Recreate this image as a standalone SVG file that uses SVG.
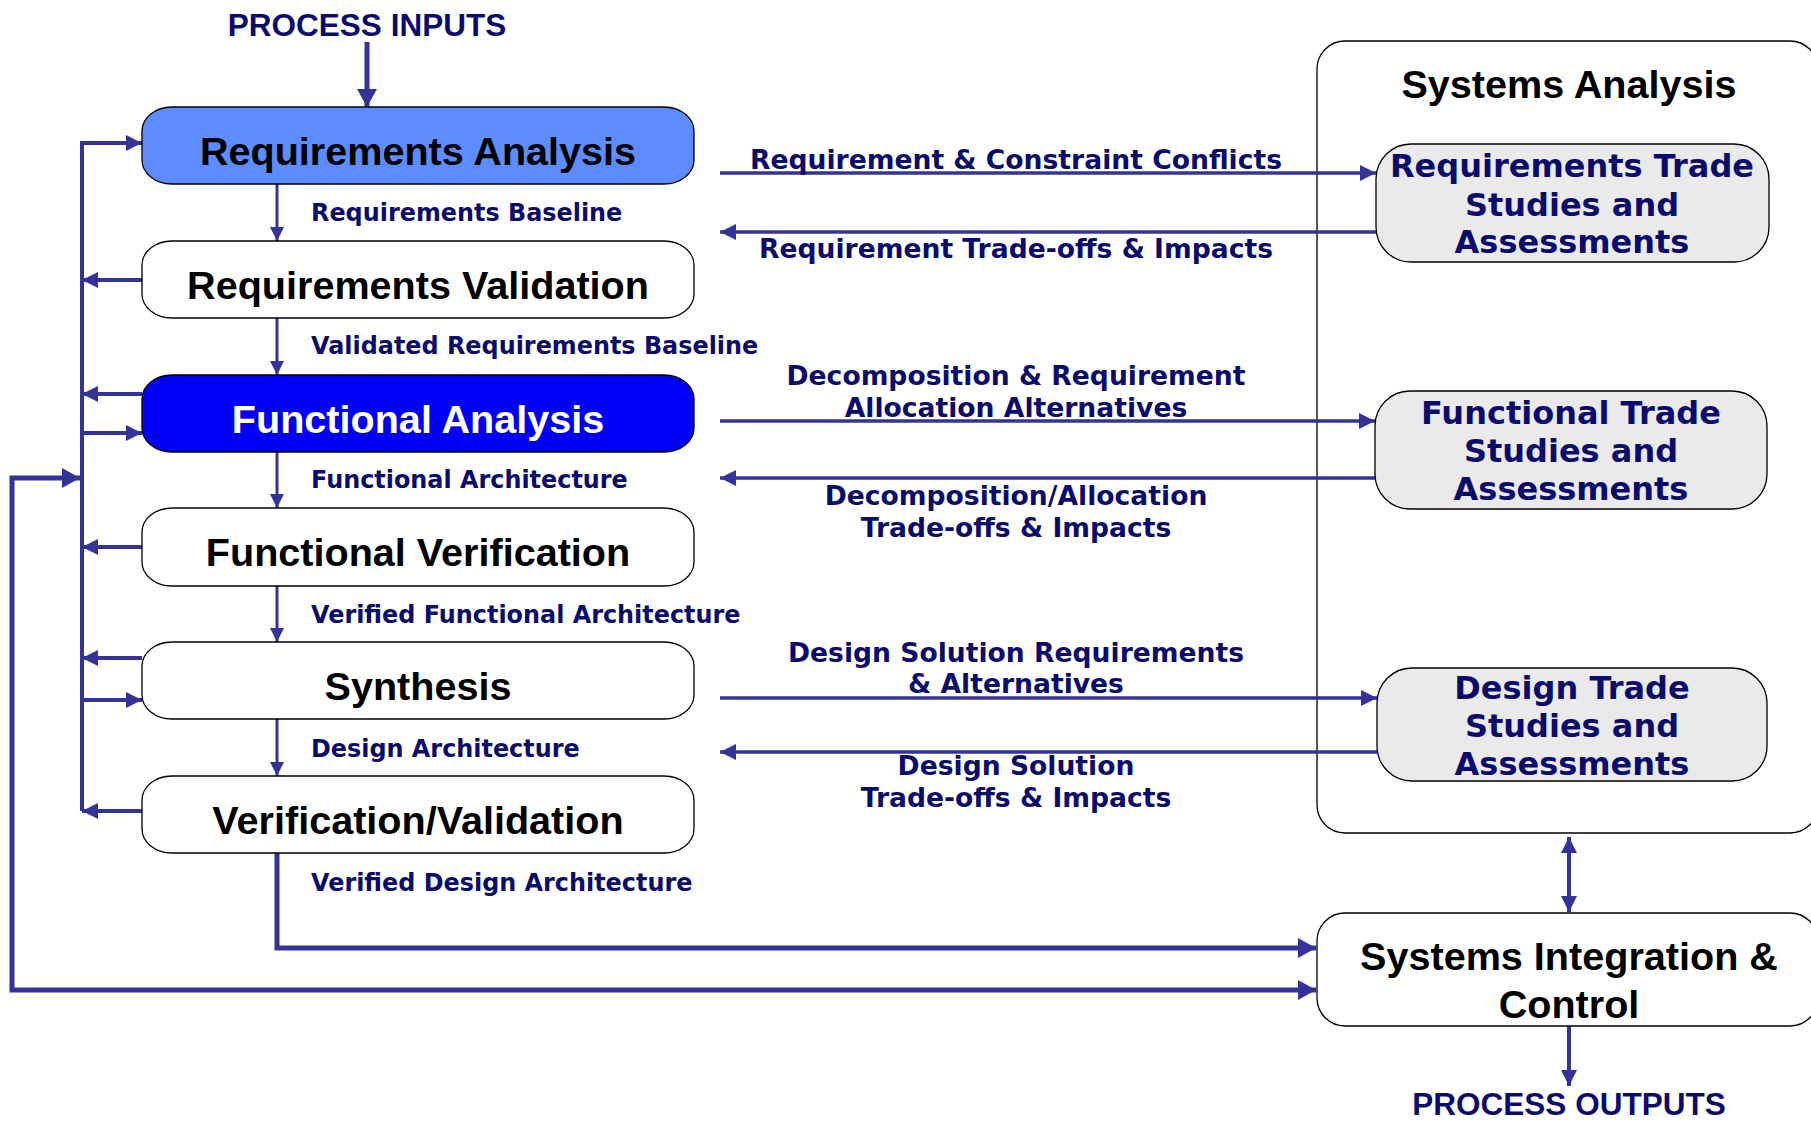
<svg xmlns="http://www.w3.org/2000/svg" width="1811" height="1122" viewBox="0 0 1811 1122">
<style>
.node{stroke:#000;stroke-width:1.3}
.big{font-family:"Liberation Sans",Arial,sans-serif;font-weight:bold;font-size:39.6px;text-anchor:middle;fill:#000}
.proc{font-family:"Liberation Sans",Arial,sans-serif;font-weight:bold;font-size:31.5px;text-anchor:middle;fill:#0b0b6e}
.lbl{font-family:"DejaVu Sans",Verdana,sans-serif;font-weight:bold;font-size:23.9px;fill:#0b0b6e}
.mid{font-family:"DejaVu Sans",Verdana,sans-serif;font-weight:bold;font-size:26.6px;fill:#0b0b6e;text-anchor:middle}
.trade{font-family:"DejaVu Sans",Verdana,sans-serif;font-weight:bold;font-size:32px;fill:#0b0b6e;text-anchor:middle}
.ln{fill:none;stroke:#333399}
</style>
<defs>
<marker id="ah" markerUnits="userSpaceOnUse" markerWidth="16" markerHeight="16" viewBox="0 0 16 16" refX="16" refY="8" orient="auto-start-reverse">
<path d="M0,0 L16,8 L0,16 z" fill="#333399"/>
</marker>
<marker id="ahs" markerUnits="userSpaceOnUse" markerWidth="14" markerHeight="14" viewBox="0 0 14 14" refX="14" refY="7" orient="auto-start-reverse">
<path d="M0,0 L14,7 L0,14 z" fill="#333399"/>
</marker>
<marker id="ahL" markerUnits="userSpaceOnUse" markerWidth="18" markerHeight="20" viewBox="0 0 18 20" refX="18" refY="10" orient="auto-start-reverse">
<path d="M0,0 L18,10 L0,20 z" fill="#333399"/>
</marker>
</defs>

<g id="systems-analysis">
<rect class="node" x="1317" y="41" width="501" height="792" rx="28" ry="28" fill="#fff"/>
<text class="big" x="1569" y="98">Systems Analysis</text>
</g>

<g id="connectors">
<path class="ln" d="M367,42 V107" stroke-width="5" marker-end="url(#ahL)"/>
<path class="ln" d="M277,184 V241" stroke-width="3" marker-end="url(#ahs)"/>
<path class="ln" d="M277,318 V375" stroke-width="3" marker-end="url(#ahs)"/>
<path class="ln" d="M277,452 V508" stroke-width="3" marker-end="url(#ahs)"/>
<path class="ln" d="M277,586 V642" stroke-width="3" marker-end="url(#ahs)"/>
<path class="ln" d="M277,719 V776" stroke-width="3" marker-end="url(#ahs)"/>
<path class="ln" d="M82,811 V143 H142" stroke-width="4" marker-end="url(#ah)"/>
<path class="ln" d="M142,280 H82" stroke-width="4" marker-end="url(#ah)"/>
<path class="ln" d="M142,394 H82" stroke-width="4" marker-end="url(#ah)"/>
<path class="ln" d="M82,433 H142" stroke-width="4" marker-end="url(#ah)"/>
<path class="ln" d="M142,547 H82" stroke-width="4" marker-end="url(#ah)"/>
<path class="ln" d="M142,658 H82" stroke-width="4" marker-end="url(#ah)"/>
<path class="ln" d="M82,700 H142" stroke-width="4" marker-end="url(#ah)"/>
<path class="ln" d="M142,811 H82" stroke-width="4" marker-end="url(#ah)"/>
<path class="ln" d="M1316,990 H12 V478 H80" stroke-width="5" marker-start="url(#ahL)" marker-end="url(#ahL)"/>
<path class="ln" d="M277,853 V948 H1316" stroke-width="5" marker-end="url(#ahL)"/>
<path class="ln" d="M720,173 H1376" stroke-width="3.5" marker-end="url(#ah)"/>
<path class="ln" d="M1376,232 H720" stroke-width="3.5" marker-end="url(#ah)"/>
<path class="ln" d="M720,421 H1375" stroke-width="3.5" marker-end="url(#ah)"/>
<path class="ln" d="M1375,478 H720" stroke-width="3.5" marker-end="url(#ah)"/>
<path class="ln" d="M720,698 H1377" stroke-width="3.5" marker-end="url(#ah)"/>
<path class="ln" d="M1377,752 H720" stroke-width="3.5" marker-end="url(#ah)"/>
<path class="ln" d="M1569,837 V912" stroke-width="4" marker-start="url(#ah)" marker-end="url(#ah)"/>
<path class="ln" d="M1569,1026 V1086" stroke-width="4" marker-end="url(#ah)"/>
</g>

<g id="edge-labels">
<text class="lbl" x="311" y="221">Requirements Baseline</text>
<text class="lbl" x="311" y="354">Validated Requirements Baseline</text>
<text class="lbl" x="311" y="488">Functional Architecture</text>
<text class="lbl" x="311" y="623">Verified Functional Architecture</text>
<text class="lbl" x="311" y="757">Design Architecture</text>
<text class="lbl" x="311" y="891">Verified Design Architecture</text>
<text class="mid" x="1016" y="169">Requirement &amp; Constraint Conflicts</text>
<text class="mid" x="1016" y="258">Requirement Trade-offs &amp; Impacts</text>
<text class="mid" x="1016" y="385">Decomposition &amp; Requirement</text>
<text class="mid" x="1016" y="417">Allocation Alternatives</text>
<text class="mid" x="1016" y="505">Decomposition/Allocation</text>
<text class="mid" x="1016" y="537">Trade-offs &amp; Impacts</text>
<text class="mid" x="1016" y="662">Design Solution Requirements</text>
<text class="mid" x="1016" y="693">&amp; Alternatives</text>
<text class="mid" x="1016" y="775">Design Solution</text>
<text class="mid" x="1016" y="807">Trade-offs &amp; Impacts</text>
</g>

<g id="process-inputs"><text class="proc" x="367" y="36">PROCESS INPUTS</text></g>
<g id="process-outputs"><text class="proc" x="1569" y="1115">PROCESS OUTPUTS</text></g>

<g id="requirements-analysis">
<rect class="node" x="142" y="107" width="552" height="77" rx="30" ry="24" fill="#5c8cff"/>
<text class="big" x="418" y="165">Requirements Analysis</text>
</g>
<g id="requirements-validation">
<rect class="node" x="142" y="241" width="552" height="77" rx="30" ry="24" fill="#fff"/>
<text class="big" x="418" y="299">Requirements Validation</text>
</g>
<g id="functional-analysis">
<rect class="node" x="142" y="375" width="552" height="77" rx="30" ry="24" fill="#0000f5"/>
<text class="big" x="418" y="433" style="fill:#fff">Functional Analysis</text>
</g>
<g id="functional-verification">
<rect class="node" x="142" y="508" width="552" height="78" rx="30" ry="24" fill="#fff"/>
<text class="big" x="418" y="566">Functional Verification</text>
</g>
<g id="synthesis">
<rect class="node" x="142" y="642" width="552" height="77" rx="30" ry="24" fill="#fff"/>
<text class="big" x="418" y="700">Synthesis</text>
</g>
<g id="verification-validation">
<rect class="node" x="142" y="776" width="552" height="77" rx="30" ry="24" fill="#fff"/>
<text class="big" x="418" y="834">Verification/Validation</text>
</g>

<g id="requirements-trade">
<rect class="node" x="1376" y="144" width="393" height="118" rx="35" ry="35" fill="#eaeaea"/>
<text class="trade" x="1572" y="177">Requirements Trade</text>
<text class="trade" x="1572" y="216">Studies and</text>
<text class="trade" x="1572" y="253">Assessments</text>
</g>
<g id="functional-trade">
<rect class="node" x="1375" y="391" width="392" height="118" rx="35" ry="35" fill="#eaeaea"/>
<text class="trade" x="1571" y="424">Functional Trade</text>
<text class="trade" x="1571" y="462">Studies and</text>
<text class="trade" x="1571" y="500">Assessments</text>
</g>
<g id="design-trade">
<rect class="node" x="1377" y="668" width="390" height="113" rx="35" ry="35" fill="#eaeaea"/>
<text class="trade" x="1572" y="699">Design Trade</text>
<text class="trade" x="1572" y="737">Studies and</text>
<text class="trade" x="1572" y="775">Assessments</text>
</g>

<g id="systems-integration">
<rect class="node" x="1317" y="913" width="501" height="113" rx="28" ry="28" fill="#fff"/>
<text class="big" x="1569" y="970">Systems Integration &amp;</text>
<text class="big" x="1569" y="1018">Control</text>
</g>
</svg>
